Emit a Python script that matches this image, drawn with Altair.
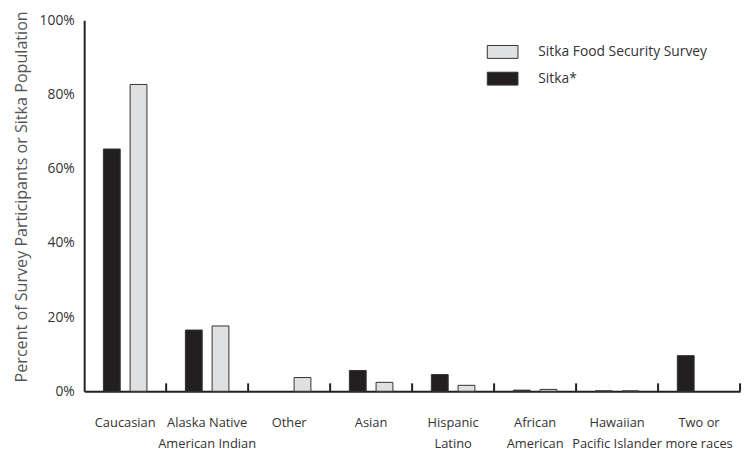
import altair as alt
import pandas as pd

categories = ["Caucasian", "Alaska Native~American Indian", "Other", "Asian",
              "Hispanic~Latino", "African~American", "Hawaiian~Pacific Islander",
              "Two or~more races"]
sitka = [65.3, 16.5, 0.0, 5.6, 4.5, 0.3, 0.1, 9.6]
survey = [82.7, 17.6, 3.7, 2.4, 1.6, 0.5, 0.1, 0.0]
series = ["Sitka*", "Sitka Food Security Survey"]

rows = []
for c, a, b in zip(categories, sitka, survey):
    rows.append({"cat": c, "series": series[0], "value": a / 100})
    rows.append({"cat": c, "series": series[1], "value": b / 100})
df = pd.DataFrame(rows)
cats = pd.DataFrame({"cat": categories})

FONT = "Open Sans"
W, H = 663, 375

xenc = alt.X("cat:N", sort=categories,
             scale=alt.Scale(paddingInner=0, paddingOuter=0),
             axis=alt.Axis(title=None, labelExpr="split(datum.label, '~')",
                           labelAngle=0, ticks=False, domain=True,
                           domainColor="#231f20", domainWidth=2,
                           labelPadding=26, labelFontSize=13, labelColor="#333",
                           labelFont=FONT, labelLineHeight=21))

bars = alt.Chart(df).transform_filter("datum.value > 0").mark_bar(
    stroke="#333", strokeWidth=1).encode(
    x=xenc,
    xOffset=alt.XOffset("series:N", sort=series,
                        scale=alt.Scale(domain=series, paddingInner=0.37,
                                        paddingOuter=0.72)),
    y=alt.Y("value:Q", scale=alt.Scale(domain=[0, 1], nice=False),
            axis=alt.Axis(title="Percent of Survey Participants or Sitka Population",
                          format=".0%", values=[0, 0.2, 0.4, 0.6, 0.8, 1.0],
                          grid=False, ticks=False, domainColor="#231f20",
                          domainWidth=2, labelPadding=10, labelFontSize=14,
                          labelColor="#333", labelFont=FONT,
                          titleFont=FONT, titleFontSize=16.3, titleFontWeight="normal",
                          titleColor="#555", titlePadding=10, titleY=178)),
    color=alt.Color("series:N",
                    scale=alt.Scale(domain=[series[1], series[0]],
                                    range=["#dfe0e1", "#231f20"]),
                    legend=alt.Legend(title=None, orient="none", legendX=407,
                                      legendY=16, symbolType="M-1,-0.42H1V0.42H-1Z",
                                      symbolSize=961, symbolStrokeColor="#333",
                                      symbolStrokeWidth=1, symbolOpacity=1,
                                      labelFont=FONT, labelFontSize=14,
                                      labelColor="#333", labelOffset=20,
                                      labelLimit=400, rowPadding=2)),
)

ticks = alt.Chart(cats).mark_rule(color="#231f20", strokeWidth=2).encode(
    x=alt.X("cat:N", sort=categories, bandPosition=1),
    y=alt.value(H),
    y2=alt.value(H - 8),
)

chart = alt.layer(bars, ticks).properties(
    width=W, height=H,
    autosize=alt.AutoSizeParams(type="none"),
    padding={"left": 77, "top": 10, "right": 6, "bottom": 60},
).configure_view(stroke=None).configure_axis(labelFont=FONT)

chart.save("out.html", embed_options={"renderer": "svg", "actions": False})
